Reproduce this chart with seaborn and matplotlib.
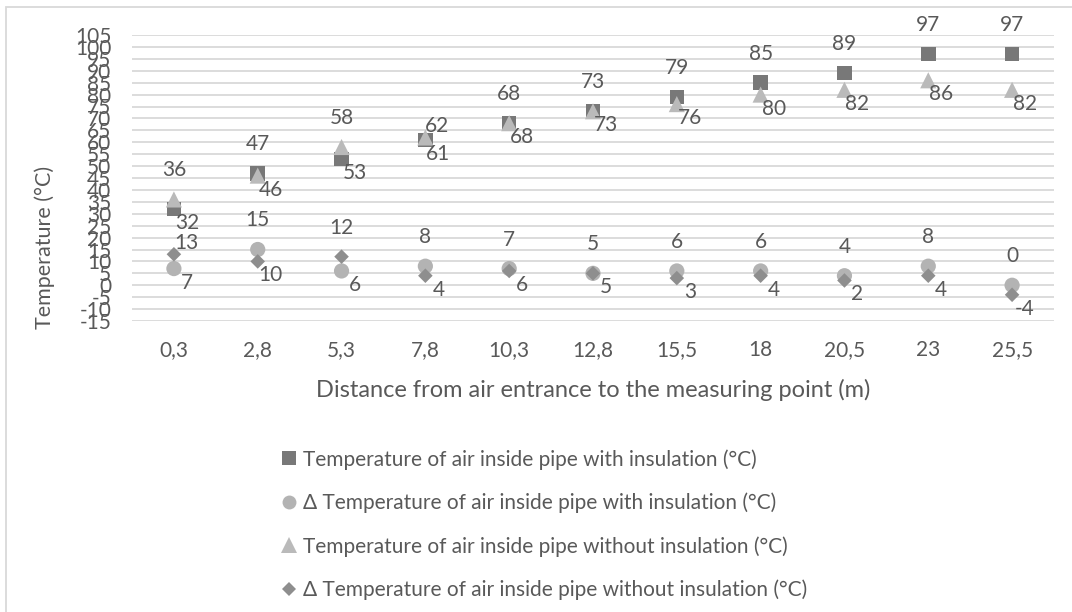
import matplotlib
matplotlib.use("Agg")
import matplotlib.pyplot as plt
import seaborn as sns
import pandas as pd
from matplotlib.lines import Line2D
from matplotlib.patches import Rectangle

# ---- data ----
distances = ["0,3", "2,8", "5,3", "7,8", "10,3", "12,8", "15,5", "18", "20,5", "23", "25,5"]
t_ins = [32, 47, 53, 61, 68, 73, 79, 85, 89, 97, 97]
d_ins = [7, 15, 6, 8, 7, 5, 6, 6, 4, 8, 0]
t_noins = [36, 46, 58, 62, 68, 73, 76, 80, 82, 86, 82]
d_noins = [13, 10, 12, 4, 6, 5, 3, 4, 2, 4, -4]
yticks = list(range(-15, 106, 5))

names = [
    "Temperature of air inside pipe with insulation (°C)",
    "Δ Temperature of air inside pipe with insulation (°C)",
    "Temperature of air inside pipe without insulation (°C)",
    "Δ Temperature of air inside pipe without insulation (°C)",
]
series = [t_ins, d_ins, t_noins, d_noins]
colors = ["#787878", "#b3b3b3", "#bababa", "#8e8e8e"]
markers = ["s", "o", "^", "D"]
sizes = [110, 120, 135, 55]

TXT = "#595959"
FS = 15
sns.set_theme(style="white")
plt.rcParams["font.family"] = ["Lato", "DejaVu Sans"]

W, H = 1072, 612
fig = plt.figure(figsize=(W / 100, H / 100), dpi=100)
ax = fig.add_axes([132 / W, 1 - 321 / H, (1054 - 132) / W, (321 - 35) / H])

for name, vals, c, m, s in zip(names, series, colors, markers, sizes):
    df = pd.DataFrame({"x": distances, "y": vals})
    sns.scatterplot(data=df, x="x", y="y", ax=ax, color=c, marker=m, s=s,
                    edgecolor="none", linewidth=0, zorder=3, legend=False)

ax.set_xlim(-0.5, len(distances) - 0.5)
ax.set_ylim(-15, 105)
ax.set_yticks(yticks)
ax.set_yticklabels([str(v) for v in yticks])
ax.grid(axis="y", color="#d9d9d9", linewidth=1.3)
ax.grid(axis="x", visible=False)
for sp in ax.spines.values():
    sp.set_visible(False)
ax.tick_params(axis="y", length=0, pad=15, labelsize=FS, labelcolor=TXT)
ax.tick_params(axis="x", length=0, pad=14, labelsize=FS, labelcolor=TXT)
ax.set_xlabel("")
ax.set_ylabel("")

# data labels
def lab(i, v, dx, dy):
    ax.annotate(str(v), (i, v), xytext=(dx, dy), textcoords="offset pixels",
                ha="center", va="center", fontsize=FS, color=TXT, zorder=4)

nudged = {(1, 0), (0, 3)}  # (pair, index) labels placed up-right
for p, (a, b) in enumerate([(t_ins, t_noins), (d_ins, d_noins)]):
    for i in range(len(distances)):
        hi, lo = (a[i], b[i]) if a[i] >= b[i] else (b[i], a[i])
        if (p, i) in nudged:
            lab(i, hi, 12, 11)
        else:
            lab(i, hi, 0, 29)
        lab(i, lo, 13, -14)

# axis titles
fig.text(593 / W, 1 - 390 / H, "Distance from air entrance to the measuring point (m)",
         ha="center", va="center", fontsize=17, color=TXT)
fig.text(45 / W, 1 - 247 / H, "Temperature (°C)", rotation=90,
         ha="center", va="center", fontsize=15.5, color=TXT)

# legend
handles = [Line2D([], [], linestyle="none", marker=m, color=c, markersize=ms,
                  markeredgewidth=0)
           for m, c, ms in zip(markers, colors, [10, 10, 11, 7])]
leg = fig.legend(handles, names, loc="upper left",
                 bbox_to_anchor=(282 / W, 1 - 449 / H), frameon=False,
                 fontsize=FS, handlelength=0.7, handletextpad=0.3,
                 labelspacing=1.1, borderpad=0, borderaxespad=0)
for t in leg.get_texts():
    t.set_color(TXT)

# outer chart border (partially cropped)
fig.patches.append(Rectangle((6 / W, -0.1), 1.2, 1 - 7 / H + 0.1,
                             transform=fig.transFigure, fill=False,
                             edgecolor="#d9d9d9", linewidth=1.3))

fig.savefig("out.png", dpi=100, facecolor="white")
